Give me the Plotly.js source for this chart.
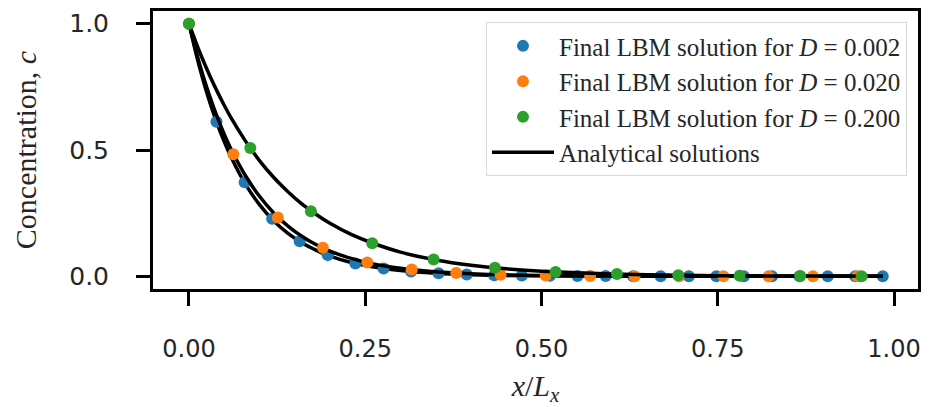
<!DOCTYPE html>
<html>
<head>
<meta charset="utf-8">
<script src="https://cdn.plot.ly/plotly-3.0.1.min.js"></script>
<style>
  html, body { margin: 0; padding: 0; background: #fff; }
  #plot { width: 933px; height: 407px; }
</style>
</head>
<body>
<div id="plot"></div>
<script>
// LBM samples for each diffusion coefficient
const xD002 = [0, 0.039, 0.079, 0.118, 0.157, 0.197, 0.236, 0.276, 0.315, 0.354, 0.394, 0.433, 0.472,
               0.512, 0.551, 0.591, 0.630, 0.669, 0.709, 0.748, 0.787, 0.827, 0.866, 0.906, 0.945, 0.984];
const cD002 = [1.000, 0.612, 0.372, 0.228, 0.139, 0.084, 0.051, 0.031, 0.019, 0.012, 0.007, 0.004, 0.003,
               0.002, 0.001, 0.001, 0.000, 0.000, 0.000, 0.000, 0.000, 0.000, 0.000, 0.000, 0.000, 0.000];

const xD020 = [0, 0.063, 0.126, 0.190, 0.253, 0.316, 0.379, 0.442, 0.506, 0.569, 0.632, 0.695, 0.758, 0.822, 0.885, 0.948];
const cD020 = [1.000, 0.483, 0.233, 0.113, 0.055, 0.027, 0.013, 0.006, 0.003, 0.0015, 0.0007, 0.0003, 0.0002, 0.0001, 0.000, 0.000];

const xD200 = [0, 0.087, 0.173, 0.260, 0.347, 0.434, 0.520, 0.607, 0.694, 0.781, 0.867, 0.954];
const cD200 = [1.000, 0.508, 0.258, 0.131, 0.067, 0.034, 0.017, 0.009, 0.0045, 0.002, 0.001, 0.0006];

// Analytical profiles sampled along x/Lx
const xExact = [0, 0.01, 0.02, 0.03, 0.04, 0.05, 0.06, 0.08, 0.10, 0.12, 0.14, 0.16, 0.18, 0.20,
                0.23, 0.26, 0.30, 0.35, 0.40, 0.45, 0.50, 0.60, 0.70, 0.80, 0.90, 0.984];
const exactD002 = [1.000, 0.882, 0.777, 0.685, 0.604, 0.533, 0.470, 0.365, 0.284, 0.220, 0.171, 0.133, 0.104, 0.080,
                   0.055, 0.038, 0.023, 0.012, 0.006, 0.003, 0.002, 0.001, 0.000, 0.000, 0.000, 0.000];
const exactD020 = [1.000, 0.891, 0.794, 0.708, 0.631, 0.563, 0.502, 0.399, 0.317, 0.252, 0.200, 0.159, 0.126, 0.100,
                   0.071, 0.050, 0.032, 0.018, 0.010, 0.006, 0.003, 0.001, 0.0003, 0.0001, 0.000, 0.000];
const exactD200 = [1.000, 0.925, 0.855, 0.791, 0.732, 0.677, 0.626, 0.536, 0.458, 0.392, 0.336, 0.287, 0.246, 0.210,
                   0.166, 0.132, 0.096, 0.065, 0.044, 0.030, 0.020, 0.009, 0.004, 0.002, 0.001, 0.0005];

const xTicks = [0, 0.25, 0.5, 0.75, 1.0];
const xTickText = ['0.00', '0.25', '0.50', '0.75', '1.00'];
const yTicks = [0, 0.5, 1.0];
const yTickText = ['0.0', '0.5', '1.0'];

const labels = ['0.002', '0.020', '0.200'];
const colors = ['#1f77b4', '#ff7f0e', '#2ca02c'];

const samples = [[xD002, cD002], [xD020, cD020], [xD200, cD200]];
const exact = [exactD002, exactD020, exactD200];

// each analytical curve is drawn just before its own samples
const traces = [];
for (let i = 0; i < 3; i++) {
  traces.push({
    x: xExact, y: exact[i], type: 'scatter', mode: 'lines',
    line: { color: '#000', width: 3.5, shape: 'spline', smoothing: 0.6 },
    name: 'Analytical solutions',
    legendgroup: 'exact', showlegend: i === 2, legendrank: 4,
    hoverinfo: 'skip'
  });
  traces.push({
    x: samples[i][0], y: samples[i][1], type: 'scatter', mode: 'markers',
    marker: { color: colors[i], size: 12, line: { width: 0 } },
    name: 'Final LBM solution for <i>D</i> = ' + labels[i],
    legendgroup: 'lbm' + i, legendrank: i + 1
  });
}

const serif = 'Liberation Serif, DejaVu Serif, serif';
const sans = 'DejaVu Sans, sans-serif';

const layout = {
  width: 933, height: 407,
  margin: { l: 153, r: 15, t: 11, b: 118 },
  paper_bgcolor: '#fff', plot_bgcolor: '#fff',
  showlegend: true,
  legend: {
    x: 0.9856, xanchor: 'right', y: 0.96, yanchor: 'top',
    bgcolor: 'rgba(255,255,255,0.8)', bordercolor: '#d9d9d9', borderwidth: 1,
    font: { family: serif, size: 25, color: '#262626' },
    traceorder: 'grouped', tracegroupgap: 0, itemwidth: 62
  },
  xaxis: {
    range: [-0.051, 1.034], tickvals: xTicks, ticktext: xTickText,
    showgrid: false, zeroline: false,
    showline: true, mirror: true, linecolor: '#000', linewidth: 3,
    ticks: 'outside', ticklen: 14, tickwidth: 3, tickcolor: '#000',
    ticklabelstandoff: 22,
    tickfont: { family: sans, size: 24, color: '#262626' },
    title: { text: '<i>x</i>/<i>L<sub>x</sub></i>', font: { family: serif, size: 30, color: '#262626' }, standoff: 14 }
  },
  yaxis: {
    range: [-0.05, 1.05], tickvals: yTicks, ticktext: yTickText,
    showgrid: false, zeroline: false,
    showline: true, mirror: true, linecolor: '#000', linewidth: 3,
    ticks: 'outside', ticklen: 14, tickwidth: 3, tickcolor: '#000',
    ticklabelstandoff: 22,
    tickfont: { family: sans, size: 25, color: '#262626' },
    title: { text: 'Concentration, <i>c</i>', font: { family: serif, size: 30, color: '#262626' }, standoff: 24 }
  }
};

Plotly.newPlot('plot', traces, layout, { staticPlot: true, displayModeBar: false });
</script>
</body>
</html>
